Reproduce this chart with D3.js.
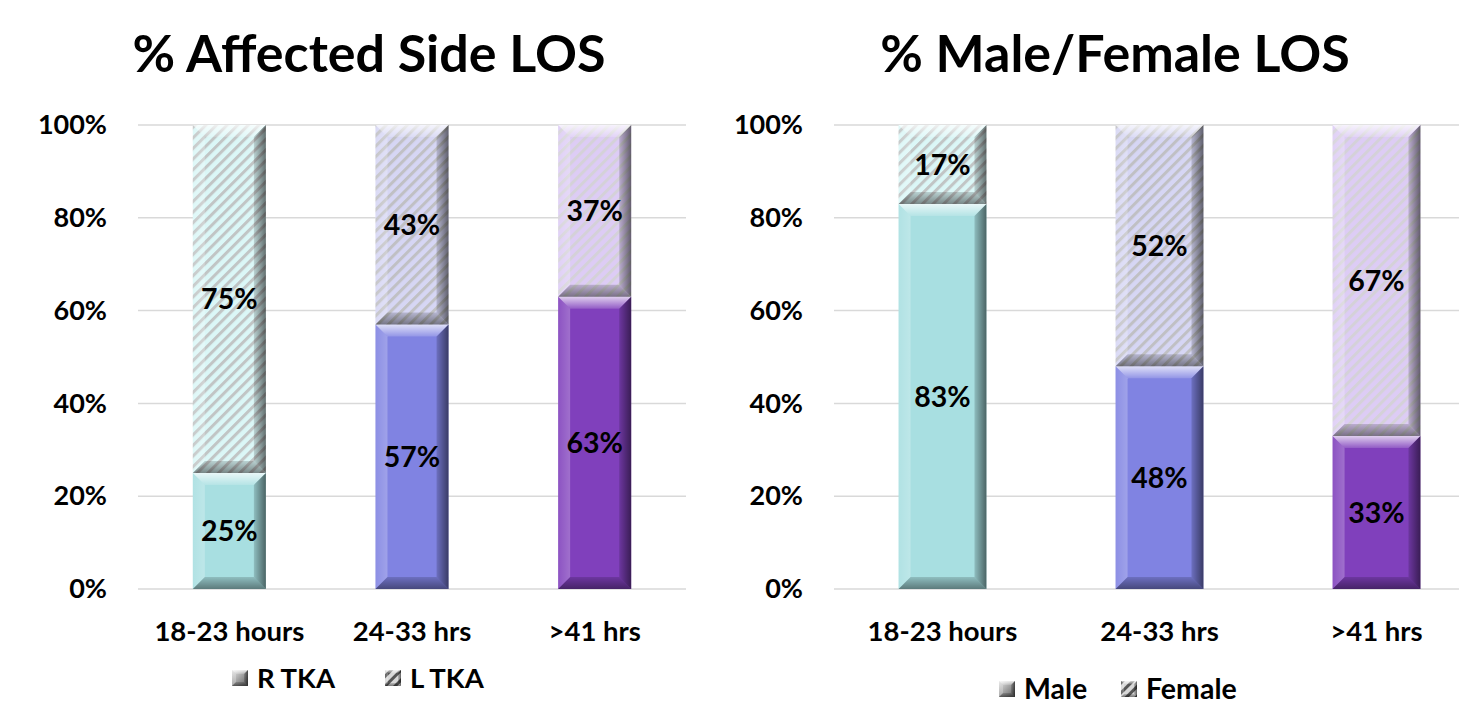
<!DOCTYPE html>
<html><head><meta charset="utf-8">
<script src="https://cdn.jsdelivr.net/npm/d3@7"></script>
<style>body{margin:0;background:#fff}svg{display:block}text{font-family:Lato,"Open Sans",sans-serif;font-weight:700;fill:#000}</style>
</head><body>
<script>
const categories = ["18-23 hours", "24-33 hrs", ">41 hrs"];
const ticks = [0, 20, 40, 60, 80, 100];
// Chart 1: % Affected Side LOS
const rTKA = [25, 57, 63];
const lTKA = [75, 43, 37];
// Chart 2: % Male/Female LOS
const male = [83, 48, 33];
const female = [17, 52, 67];

const baseColors = ["#a8dfe1", "#8083e2", "#8040bc"];
const lightColors = ["#dbf7f7", "#d6d6f4", "#ddccf5"];

const W = 1459, H = 706;
const svg = d3.select("body").append("svg").attr("width", W).attr("height", H);
const defs = svg.append("defs");

lightColors.forEach((c, i) => {
  const p = defs.append("pattern").attr("id", "hatch" + i).attr("patternUnits", "userSpaceOnUse")
    .attr("width", 7.5).attr("height", 7.5).attr("patternTransform", "rotate(45)");
  p.append("rect").attr("width", 7.5).attr("height", 7.5).attr("fill", c);
  p.append("rect").attr("x", 0).attr("width", 3).attr("height", 7.5).attr("fill", i === 2 ? "#d2d2d2" : "#bcbcbc").attr("opacity", 0.85);
});
const gp = defs.append("pattern").attr("id", "hatchLegend").attr("patternUnits", "userSpaceOnUse")
  .attr("width", 7).attr("height", 7).attr("patternTransform", "rotate(45)");
gp.append("rect").attr("width", 7).attr("height", 7).attr("fill", "#d8d8d8");
gp.append("rect").attr("width", 3).attr("height", 7).attr("fill", "#555");

function grad(id, x1, y1, x2, y2, stops) {
  const g = defs.append("linearGradient").attr("id", id).attr("x1", x1).attr("y1", y1).attr("x2", x2).attr("y2", y2);
  stops.forEach(s => g.append("stop").attr("offset", s[0]).attr("stop-color", s[1]).attr("stop-opacity", s[2]));
}
grad("bvTop", 0, 0, 0, 1, [[0, "#fff", 0.75], [1, "#fff", 0.15]]);
grad("bvLeft", 0, 0, 1, 0, [[0, "#fff", 0.1], [1, "#fff", 0.25]]);
grad("bvRight", 0, 0, 1, 0, [[0, "#000", 0.15], [1, "#000", 0.55]]);
grad("bvBot", 0, 0, 0, 1, [[0, "#000", 0.15], [1, "#000", 0.45]]);
grad("legGray", 0, 0, 1, 1, [[0, "#e8e8e8", 1], [1, "#5a5a5a", 1]]);

function bevel(g, x, y, w, h, b) {
  b = Math.min(b, h / 2, w / 2);
  const poly = (pts, fill) => g.append("polygon").attr("points", pts.map(p => p.join(",")).join(" ")).attr("fill", fill);
  poly([[x, y], [x + w, y], [x + w - b, y + b], [x + b, y + b]], "url(#bvTop)");
  poly([[x, y], [x + b, y + b], [x + b, y + h - b], [x, y + h]], "url(#bvLeft)");
  poly([[x + w, y], [x + w, y + h], [x + w - b, y + h - b], [x + w - b, y + b]], "url(#bvRight)");
  poly([[x, y + h], [x + b, y + h - b], [x + w - b, y + h - b], [x + w, y + h]], "url(#bvBot)");
}

function chart(opt) {
  const g = svg.append("g");
  const x = d3.scaleBand().domain(categories).range(opt.xr).paddingInner(opt.pad).paddingOuter(opt.pad / 2);
  const y = d3.scaleLinear().domain([0, 100]).range([589, 125]);

  g.append("text").attr("x", opt.titleX).attr("y", 72).attr("text-anchor", "middle")
    .style("font-size", "52px").text(opt.title);

  // grid
  g.append("g").selectAll("line").data(ticks).join("line")
    .attr("x1", opt.xr[0]).attr("x2", opt.xr[1]).attr("y1", d => y(d)).attr("y2", d => y(d))
    .attr("stroke", "#d9d9d9").attr("stroke-width", 1.5);

  const ya = g.append("g").attr("transform", `translate(${opt.xr[0] - 28},0)`)
    .call(d3.axisLeft(y).tickValues(ticks).tickFormat(d => d + "%").tickSize(0));
  ya.select(".domain").remove();
  ya.selectAll("text").style("font-size", "27px").style("font-family", "Lato,sans-serif").style("font-weight", 700).attr("fill", "#000");

  const xa = g.append("g").attr("transform", `translate(0,${589})`).call(d3.axisBottom(x).tickSize(0));
  xa.select(".domain").remove();
  xa.selectAll("text").attr("y", 42).attr("dy", "0.36em").style("font-size", "27.5px").style("font-family", "Lato,sans-serif").style("font-weight", 700).attr("fill", "#000");

  categories.forEach((c, i) => {
    const bx = x(c), bw = x.bandwidth();
    const v0 = opt.bottom[i], v1 = opt.top[i];
    const bg = g.append("g");
    // bottom segment
    bg.append("rect").attr("x", bx).attr("y", y(v0)).attr("width", bw).attr("height", y(0) - y(v0)).attr("fill", baseColors[i]);
    bevel(bg, bx, y(v0), bw, y(0) - y(v0), 12);
    // top segment
    bg.append("rect").attr("x", bx).attr("y", y(v0 + v1)).attr("width", bw).attr("height", y(v0) - y(v0 + v1)).attr("fill", `url(#hatch${i})`);
    bevel(bg, bx, y(v0 + v1), bw, y(v0) - y(v0 + v1), 12);
    bg.append("text").attr("x", bx + bw / 2).attr("y", y(v0 / 2)).attr("dy", "0.36em").attr("text-anchor", "middle")
      .style("font-size", "28.5px").text(v0 + "%");
    bg.append("text").attr("x", bx + bw / 2).attr("y", y(v0 + v1 / 2)).attr("dy", "0.36em").attr("text-anchor", "middle")
      .style("font-size", "28.5px").text(v1 + "%");
  });

  // legend
  const lg = g.append("g");
  opt.legend.forEach((l, k) => {
    const sx = l.x, sy = opt.legY;
    if (k === 0) {
      lg.append("rect").attr("x", sx).attr("y", sy - 8).attr("width", 16).attr("height", 16).attr("fill", "url(#legGray)");
      bevel(lg, sx, sy - 8, 16, 16, 4);
    } else {
      lg.append("rect").attr("x", sx).attr("y", sy - 8).attr("width", 16).attr("height", 16).attr("fill", "url(#hatchLegend)");
      bevel(lg, sx, sy - 8, 16, 16, 3);
    }
    lg.append("text").attr("x", sx + 25).attr("y", sy).attr("dy", "0.36em").style("font-size", opt.legSize).text(l.name);
  });
}

chart({ title: "% Affected Side LOS", titleX: 369, xr: [138, 686], pad: 0.6, bottom: rTKA, top: lTKA,
  legY: 678, legSize: "27.5px", legend: [{ name: "R TKA", x: 232 }, { name: "L TKA", x: 385 }] });
chart({ title: "% Male/Female LOS", titleX: 1115, xr: [834, 1485], pad: 0.595, bottom: male, top: female,
  legY: 689, legSize: "28.5px", legend: [{ name: "Male", x: 999 }, { name: "Female", x: 1121 }] });
</script>
</body></html>
